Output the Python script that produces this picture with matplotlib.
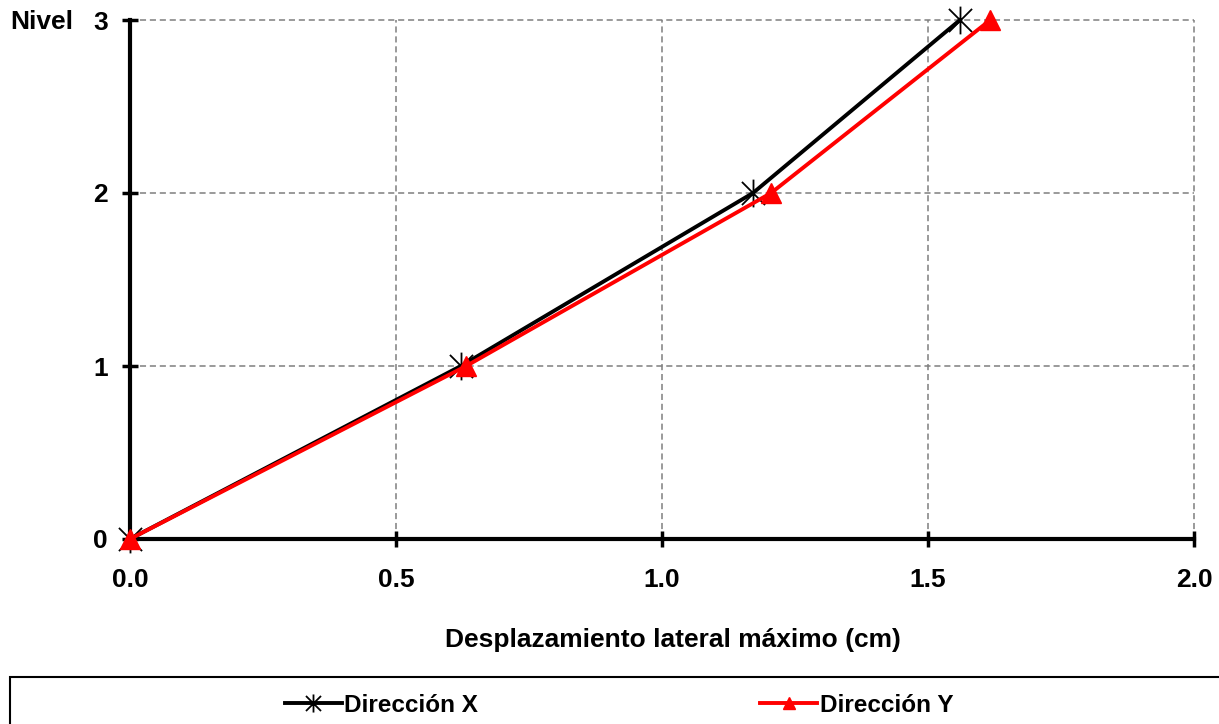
import matplotlib.pyplot as plt
from matplotlib.patches import Rectangle
from matplotlib.path import Path
import numpy as np

plt.rcParams['font.family'] = ['Liberation Sans', 'DejaVu Sans']
plt.rcParams['font.weight'] = 'bold'
fs = 19

niveles = [0, 1, 2, 3]
despl_x = [0.0, 0.622, 1.171, 1.560]
despl_y = [0.0, 0.632, 1.205, 1.617]
xticks = [0.0, 0.5, 1.0, 1.5, 2.0]
labels = ['Dirección X', 'Dirección Y']

# Excel style star: an X plus a vertical bar
star = Path([(-1, -1), (1, 1), (-1, 1), (1, -1), (0, -1.2), (0, 1.2)],
            [Path.MOVETO, Path.LINETO, Path.MOVETO, Path.LINETO, Path.MOVETO, Path.LINETO])

fig = plt.figure(figsize=(12.19, 7.24), dpi=100)
ax = fig.add_axes([130/1219, 1-539/724, (1194-130)/1219, (539-20)/724])

ax.plot(despl_x, niveles, color='black', lw=2.8, marker=star,
        markersize=20, markeredgewidth=1.3, label=labels[0], clip_on=False, zorder=4)
ax.plot(despl_y, niveles, color='red', lw=2.8, marker='^',
        markersize=14, label=labels[1], clip_on=False, zorder=5)

ax.set_xlim(0, 2.0)
ax.set_ylim(0, 3)
ax.set_xticks(xticks)
ax.set_xticklabels(['%.1f' % v for v in xticks])
ax.set_yticks(niveles)
ax.tick_params(direction='inout', length=12, width=2.5, labelsize=fs, pad=15)
ax.tick_params(axis='y', pad=10)
for s in ['top', 'right']:
    ax.spines[s].set_visible(False)
for s in ['left', 'bottom']:
    ax.spines[s].set_linewidth(3)
ax.grid(True, color='#7f7f7f', linestyle=(0, (4, 2.5)), linewidth=1.1)
for line in ax.get_xgridlines() + ax.get_ygridlines():
    line.set_clip_on(False)
ax.set_axisbelow(True)

fig.text(10/1219, 1-22/724, 'Nivel', fontsize=fs, fontweight='bold', va='center', ha='left')
fig.text(673/1219, 1-640/724, 'Desplazamiento lateral máximo (cm)', fontsize=fs,
         fontweight='bold', ha='center', va='center')

# legend box
fig.patches.append(Rectangle((10/1219, -0.05), 1.2, (724-677)/724 + 0.05,
                             transform=fig.transFigure, fill=False, edgecolor='black', lw=1.5))
h, l = ax.get_legend_handles_labels()
leg = fig.legend(h, l, loc='center', bbox_to_anchor=(619/1219, 1-705/724), ncol=2, frameon=False,
                 fontsize=17.5, handlelength=2.35, handletextpad=0.1, columnspacing=11.6,
                 markerscale=0.65)

fig.savefig('out.png', dpi=100)
